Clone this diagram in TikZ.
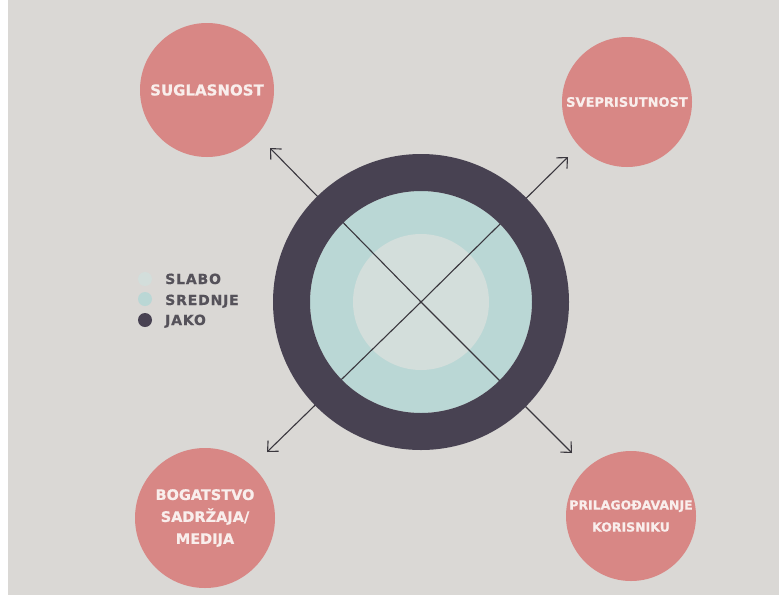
\documentclass[tikz,border=0pt]{standalone}
\usepackage{fontspec}
\setmainfont{DejaVu Sans}
\newfontfamily\labfont[FakeBold=0.8]{DejaVu Sans}
\newfontfamily\legfont[LetterSpace=6,FakeBold=0.6]{DejaVu Sans}
\usetikzlibrary{arrows.meta}
\definecolor{bgc}{RGB}{218,216,213}
\definecolor{pinkc}{RGB}{216,135,133}
\definecolor{darkc}{RGB}{72,66,82}
\definecolor{tealc}{RGB}{186,215,213}
\definecolor{corec}{RGB}{211,222,219}
\definecolor{legc}{RGB}{85,82,90}
\definecolor{arrc}{RGB}{58,55,62}
\definecolor{labc}{RGB}{249,238,236}
\begin{document}
\begin{tikzpicture}[x=1pt,y=-1pt,
  disc/.style={circle,inner sep=0pt,outer sep=0pt,draw=none},
  goal/.style={disc,fill=pinkc,minimum size=#1,text=labc,align=center,
    font=\labfont\bfseries\fontsize{15}{22}\selectfont},
  arr/.style={draw=arrc,line width=1.1pt,-{Straight Barb[length=8pt,width=15pt,line width=1.1pt]}},
  legdot/.style={disc,minimum size=14pt},
  legtext/.style={anchor=base west,inner sep=0pt,text=legc,
    font=\legfont\bfseries\fontsize{14}{17}\selectfont}
]
\useasboundingbox (0,0) rectangle (779,595);
\fill[bgc] (0,0) rectangle (779,595);
\fill[white] (0,0) rectangle (8,595);

% central rings
\node[disc,minimum size=296pt] (hub) at (421,302) {};
\node[disc,fill=tealc,minimum size=222pt] (mid) at (421,302) {};
\node[disc,fill=corec,minimum size=136pt] (core) at (421,302) {};

% arrow ends
\coordinate (tl) at (270,148);
\coordinate (tr) at (568,157);
\coordinate (bl) at (267,452);
\coordinate (br) at (572,453);
\draw[arr] (hub.center) -- (tl);
\draw[arr] (hub.center) -- (tr);
\draw[arr] (hub.center) -- (bl);
\draw[arr] (hub.center) -- (br);

% dark outer ring on top of the lines
\fill[darkc,even odd rule] (hub.center) circle[radius=148] (hub.center) circle[radius=111];

% goal circles
\node[goal=134pt] (sug) at (207,90) {SUGLASNOST};
\node[goal=130pt,font=\labfont\bfseries\fontsize{13}{22}\selectfont] (sve) at (627,102) {SVEPRISUTNOST};
\node[goal=140pt,font=\labfont\bfseries\fontsize{14.5}{22}\selectfont] (bog) at (205,518) {BOGATSTVO\\SADRŽAJA/\\MEDIJA};
\node[goal=130pt,font=\labfont\bfseries\fontsize{12.5}{22}\selectfont] (pri) at (631,516) {PRILAGOĐAVANJE\\KORISNIKU};

% legend
\node[legdot,fill=corec] (d1) at (145,279) {};
\node[legdot,fill=tealc] (d2) at (145,299) {};
\node[legdot,fill=darkc] (d3) at (145,320) {};
\node[legtext] (l1) at (165,284) {SLABO};
\node[legtext] (l2) at (165,305) {SREDNJE};
\node[legtext] (l3) at (165,325) {JAKO};
\end{tikzpicture}
\end{document}
